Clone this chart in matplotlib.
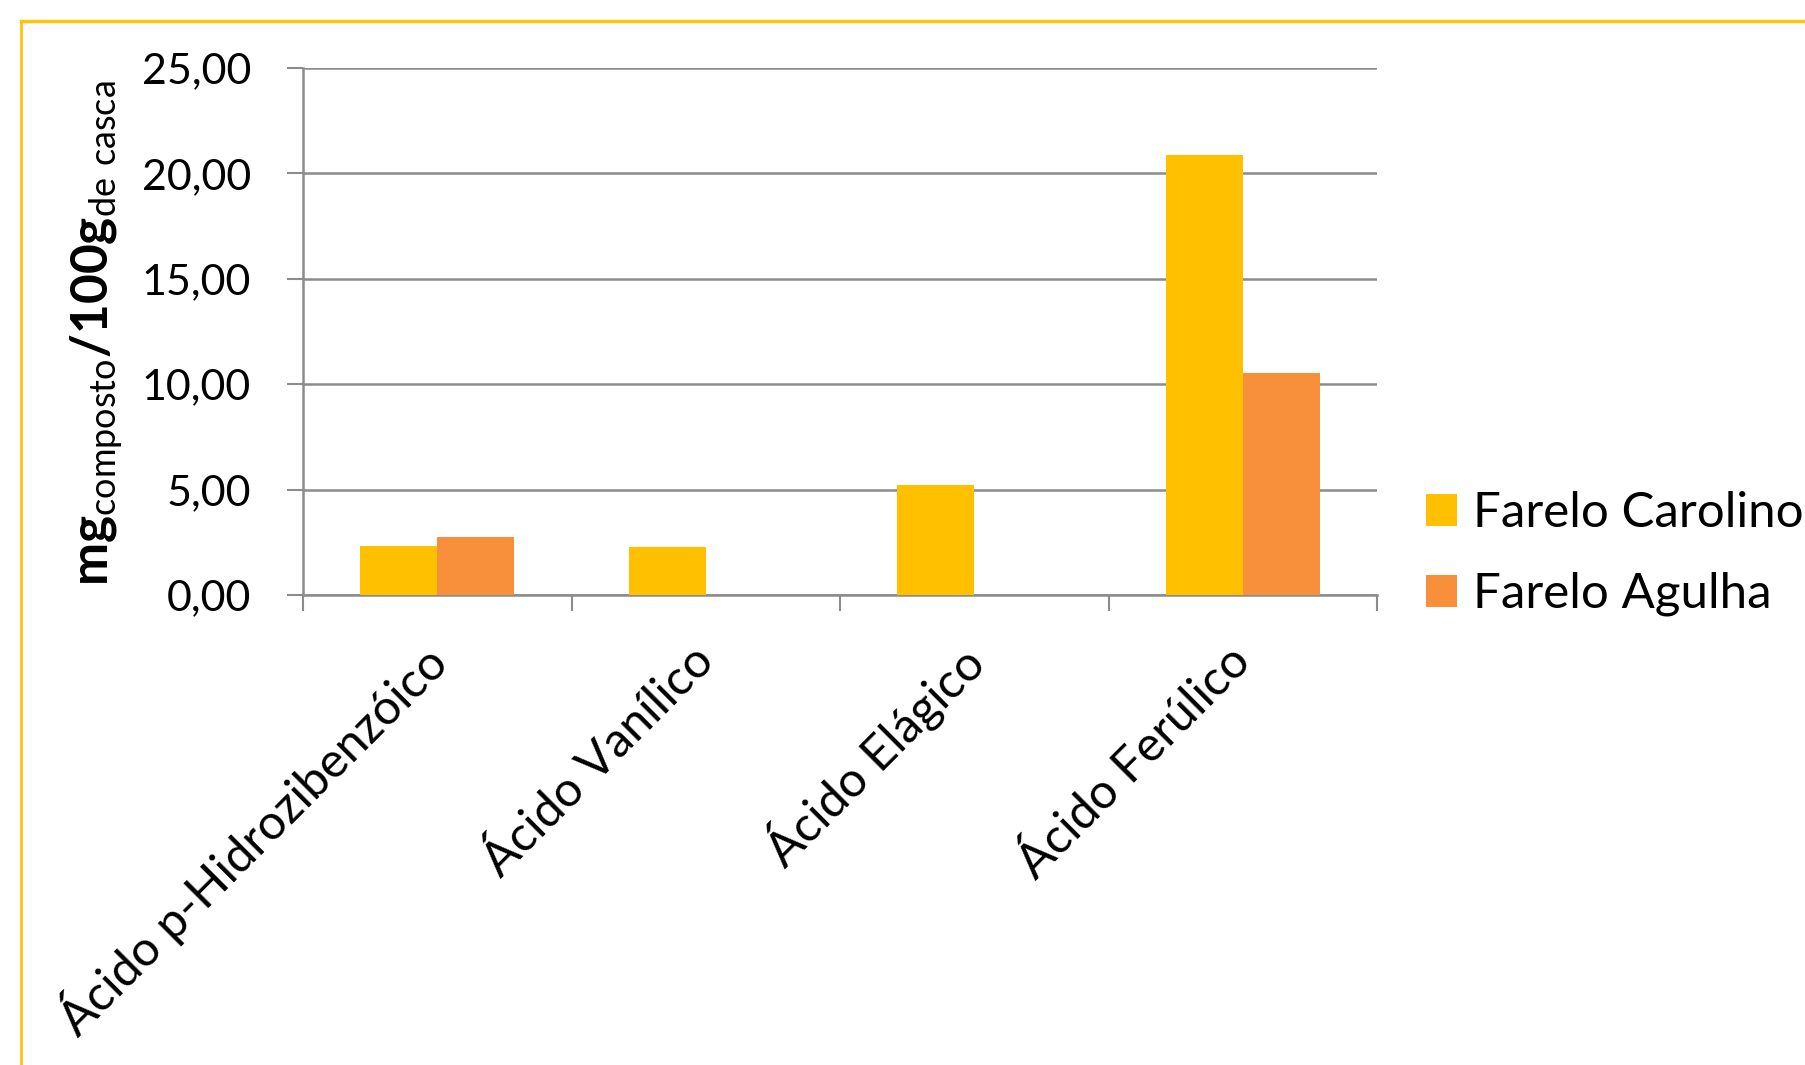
import matplotlib
matplotlib.use("Agg")
import matplotlib.pyplot as plt
from matplotlib.lines import Line2D
import numpy as np

# Phenolic acid content in rice bran (mg per 100 g of husk)
categories = ["Ácido p-Hidrozibenzóico", "Ácido Vanílico", "Ácido Elágico", "Ácido Ferúlico"]
carolino = [2.34, 2.29, 5.22, 20.89]
agulha = [2.77, 0.0, 0.0, 10.51]
series_names = ["Farelo Carolino", "Farelo Agulha"]
y_ticks = [0, 5, 10, 15, 20, 25]

YELLOW = "#FFC000"
ORANGE = "#F78F3B"
GRID = "#8C8C8C"

plt.rcParams["font.family"] = ["Lato", "DejaVu Sans"]
plt.rcParams["mathtext.fontset"] = "custom"
plt.rcParams["mathtext.rm"] = "Lato"
plt.rcParams["mathtext.bf"] = "Lato:bold"

W, H, DPI = 1805, 1065, 100
fig = plt.figure(figsize=(W / DPI, H / DPI), dpi=DPI)
fig.patch.set_facecolor("white")

# plot area in pixels
left, right, top, bottom = 303, 1377, 68, 595
ax = fig.add_axes([left / W, 1 - bottom / H, (right - left) / W, (bottom - top) / H])

x = np.arange(len(categories))
bw = 0.287
ax.bar(x - bw / 2, carolino, width=bw, color=YELLOW, label=series_names[0], zorder=3)
ax.bar(x + bw / 2, agulha, width=bw, color=ORANGE, label=series_names[1], zorder=3)

ax.set_xlim(-0.5, len(categories) - 0.5)
ax.set_ylim(0, 25)

# horizontal gridlines
ax.set_yticks(y_ticks)
ax.set_yticklabels([f"{v:.2f}".replace(".", ",") for v in y_ticks], fontsize=31)
ax.yaxis.grid(True, color=GRID, linewidth=1.8, zorder=0)
ax.tick_params(axis="y", direction="out", length=11.5, width=1.5, color=GRID, pad=26)

# category boundary ticks and centred labels
ax.set_xticks(np.arange(-0.5, len(categories), 1.0))
ax.set_xticklabels([])
ax.tick_params(axis="x", which="major", direction="out", length=11.5, width=1.5, color=GRID)
ax.set_xticks(x, minor=True)
ax.set_xticklabels(categories, minor=True, rotation=45, ha="right", va="center",
                   rotation_mode="anchor", fontsize=35)
ax.tick_params(axis="x", which="minor", length=0, pad=42)

for s in ["top", "right"]:
    ax.spines[s].set_visible(False)
for s in ["left", "bottom"]:
    ax.spines[s].set_color(GRID)
    ax.spines[s].set_linewidth(1.8)
ax.set_axisbelow(True)

# y-axis title with subscripts
fig.text(97 / W, 1 - 333 / H,
         r"$\mathbf{mg}_{\mathrm{composto}}\mathbf{/100g}_{\mathrm{de\ casca}}$",
         rotation=90, ha="center", va="center", fontsize=37)

leg = fig.legend(loc="upper left", bbox_to_anchor=(1426 / W, 1 - 491 / H),
                 frameon=False, fontsize=35.5, handlelength=0.63, handleheight=0.63,
                 handletextpad=0.33, labelspacing=0.75, borderpad=0, borderaxespad=0)

# gold frame around the figure panel
fig.add_artist(Line2D([21 / W, 1.0], [1 - 21 / H, 1 - 21 / H], transform=fig.transFigure,
                      color="#FFC20E", linewidth=2.5))
fig.add_artist(Line2D([21 / W, 21 / W], [0.0, 1 - 21 / H], transform=fig.transFigure,
                      color="#FFC20E", linewidth=2.0))

fig.savefig("out.png", dpi=DPI)
